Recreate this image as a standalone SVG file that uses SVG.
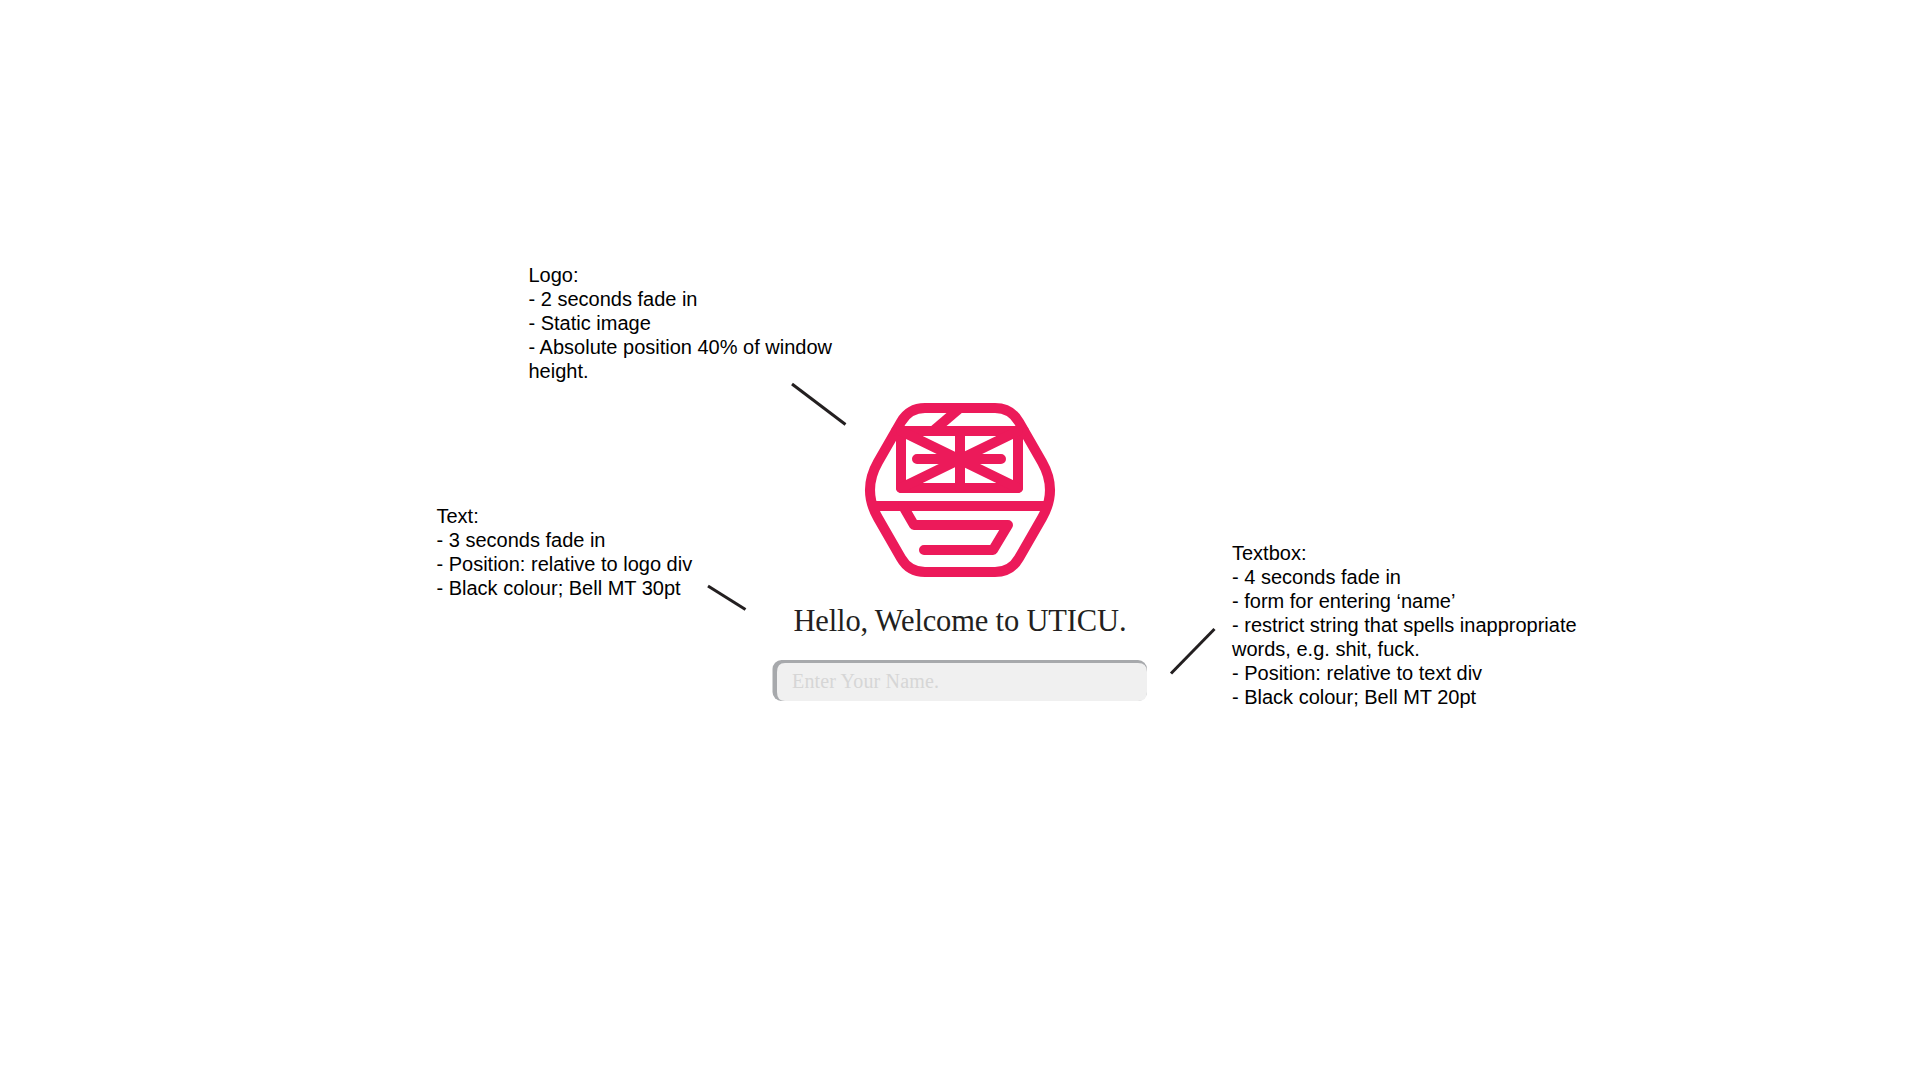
<svg xmlns="http://www.w3.org/2000/svg" width="1920" height="1080" viewBox="0 0 1920 1080">
<style>
.note{font-family:"Liberation Sans",Arial,sans-serif;font-size:20px;fill:#000}
.serif{font-family:"Liberation Serif","Times New Roman",serif}
.logo{fill:none;stroke:#ec1a5a;stroke-width:10;stroke-linejoin:round;stroke-linecap:round}
.leader{stroke:#231f20;stroke-width:3;fill:none}
</style>
<rect width="1920" height="1080" fill="#fff"/>
<g id="logo" class="logo">
<path d="M925 408H995Q1011 408 1019 422L1042 462Q1058 490 1042 518L1019 558Q1011 572 995 572H925Q909 572 901 558L878 518Q862 490 878 462L901 422Q909 408 925 408Z"/>
<path d="M872 506H1048" stroke-linecap="butt"/>
<path d="M896 431H1024"/>
<rect x="901" y="431" width="117" height="57"/>
<path d="M960 431V488M917 459H1001M901 431L1018 488M1018 431L901 488"/>
<path d="M933 431L960 408" stroke-linecap="butt"/>
<path d="M903 506L914 525H1008L993 550H924"/>
</g>
<g id="welcome-text"><text class="serif" x="793.5" y="631" font-size="30.5" fill="#231f20" textLength="333" lengthAdjust="spacing">Hello, Welcome to UTICU.</text></g>
<g id="textbox">
<rect x="772.5" y="660" width="374.5" height="41" rx="9" fill="#a7a9ac"/>
<path d="M785 663H1138Q1147 663 1147 672V692Q1147 701 1138 701H785Q777 701 777 692V672Q777 663 785 663Z" fill="#f0f0f0"/>
<text class="serif" x="792" y="688" font-size="20" fill="#d6d6d6" textLength="147" lengthAdjust="spacing">Enter Your Name.</text>
</g>
<g id="note-logo"><text class="note" x="528.5" y="282">Logo:</text><text class="note" x="528.5" y="306">- 2 seconds fade in</text><text class="note" x="528.5" y="330">- Static image</text><text class="note" x="528.5" y="354">- Absolute position 40% of window</text><text class="note" x="528.5" y="378">height.</text></g>
<g id="note-text"><text class="note" x="436.5" y="523">Text:</text><text class="note" x="436.5" y="547">- 3 seconds fade in</text><text class="note" x="436.5" y="571">- Position: relative to logo div</text><text class="note" x="436.5" y="595">- Black colour; Bell MT 30pt</text></g>
<g id="note-textbox"><text class="note" x="1232" y="560">Textbox:</text><text class="note" x="1232" y="584">- 4 seconds fade in</text><text class="note" x="1232" y="608">- form for entering ‘name’</text><text class="note" x="1232" y="632">- restrict string that spells inappropriate</text><text class="note" x="1232" y="656">words, e.g. shit, fuck.</text><text class="note" x="1232" y="680">- Position: relative to text div</text><text class="note" x="1232" y="704">- Black colour; Bell MT 20pt</text></g>
<g id="connectors" class="leader"><path d="M792 384L845.5 424.5"/><path d="M708 586L745.5 609.5"/><path d="M1214.5 629L1171 673.5"/></g>
</svg>
